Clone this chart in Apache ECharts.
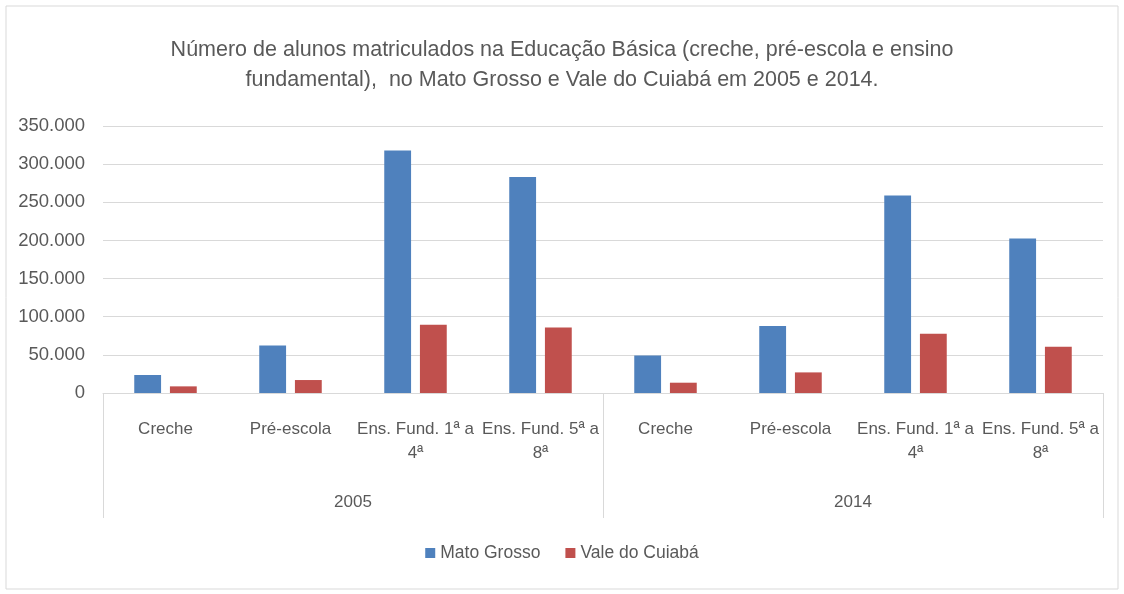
<!DOCTYPE html>
<html>
<head>
<meta charset="utf-8">
<script src="https://cdn.jsdelivr.net/npm/echarts@6/dist/echarts.min.js"></script>
<style>
  html, body { margin: 0; padding: 0; background: #fff; }
  #chart { width: 1124px; height: 594px; }
</style>
</head>
<body>
<div id="chart"></div>
<script>
const categories = ['Creche', 'Pré-escola', 'Ens. Fund. 1ª a\n4ª', 'Ens. Fund. 5ª a\n8ª',
  'Creche', 'Pré-escola', 'Ens. Fund. 1ª a\n4ª', 'Ens. Fund. 5ª a\n8ª']
const years = ['2005', '2014']
const matoGrosso = [23600, 62300, 318000, 283000, 49000, 87700, 259000, 202500]
const valeCuiaba = [8700, 17000, 89500, 86000, 13500, 27000, 77700, 60600]

const textColor = '#595959'
const font = 'Liberation Sans'

const myChart = echarts.init(document.getElementById('chart'))

const option = {
  animation: false,
  textStyle: { fontFamily: font },
  title: {
    text: 'Número de alunos matriculados na Educação Básica (creche, pré-escola e ensino\nfundamental),  no Mato Grosso e Vale do Cuiabá em 2005 e 2014.',
    left: 'center',
    top: 30,
    textStyle: { fontFamily: font, fontSize: 21.5, fontWeight: 'normal', color: textColor, lineHeight: 30 }
  },
  legend: {
    bottom: 27,
    left: 'center',
    itemWidth: 10,
    itemHeight: 10,
    itemGap: 25,
    icon: 'rect',
    textStyle: { fontFamily: font, fontSize: 17.5, color: textColor },
    data: ['Mato Grosso', 'Vale do Cuiabá']
  },
  grid: { left: 103, right: 21, top: 126, bottom: 201 },
  xAxis: [{
    type: 'category',
    data: categories,
    axisLine: { lineStyle: { color: '#d9d9d9' } },
    axisTick: { show: false },
    axisLabel: { color: textColor, fontSize: 17, margin: 24, lineHeight: 24, fontFamily: font, interval: 0 }
  }, {
    type: 'category',
    data: years,
    position: 'bottom',
    axisLine: { show: false },
    axisTick: { show: true, length: 125, lineStyle: { color: '#d9d9d9' } },
    axisLabel: { color: textColor, fontSize: 17, margin: 101, fontFamily: font }
  }],
  yAxis: {
    type: 'value',
    min: 0,
    max: 350000,
    interval: 50000,
    axisLine: { show: false },
    axisTick: { show: false },
    splitLine: { lineStyle: { color: '#d9d9d9' } },
    axisLabel: {
      color: textColor,
      fontSize: 18.5,
      margin: 18,
      fontFamily: font,
      formatter: v => v === 0 ? '0' : v.toLocaleString('de-DE')
    }
  },
  series: [{
    name: 'Mato Grosso',
    type: 'bar',
    data: matoGrosso,
    barGap: '33%',
    barCategoryGap: '50%',
    itemStyle: { color: '#4F81BD' }
  }, {
    name: 'Vale do Cuiabá',
    type: 'bar',
    data: valeCuiaba,
    itemStyle: { color: '#C0504D' }
  }],
  graphic: [{
    type: 'rect',
    shape: { x: 6, y: 6, width: 1112, height: 583 },
    style: { fill: 'none', stroke: '#d9d9d9', lineWidth: 1 },
    silent: true
  }]
}

myChart.setOption(option)
</script>
</body>
</html>
